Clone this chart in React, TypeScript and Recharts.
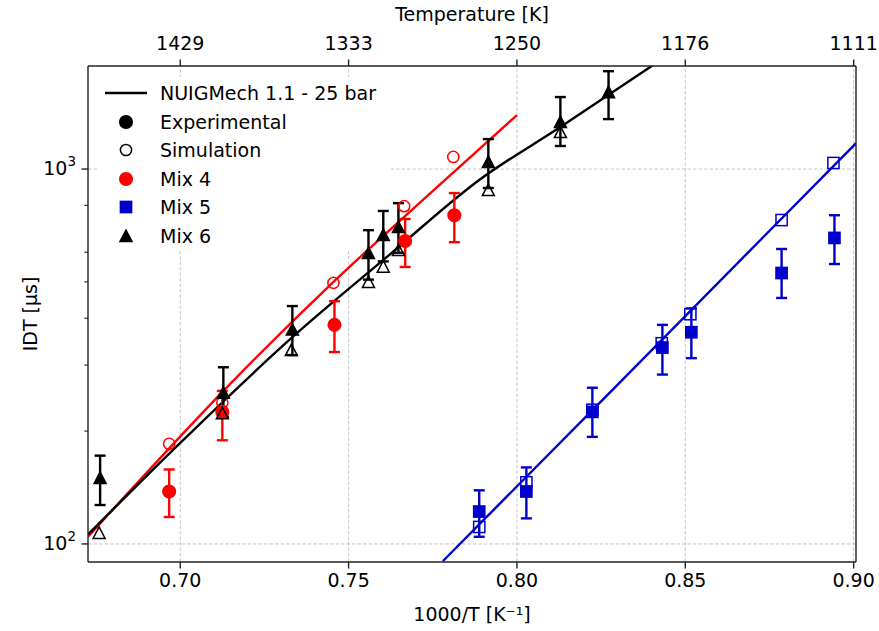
import React from "react";
import {
  ComposedChart,
  XAxis,
  YAxis,
  Scatter,
  Line,
  ErrorBar,
  ReferenceLine,
  Label,
} from "recharts";

// axis ticks
const xTicks = [0.7, 0.75, 0.8, 0.85, 0.9];
const tempLabels = ["1429", "1333", "1250", "1176", "1111"];
const yMajor = [100, 1000];
const yTicks = [100, 200, 300, 400, 500, 600, 700, 800, 900, 1000];

// Mix 4 (red)
const mix4ExpX = [0.6967, 0.7125, 0.7458, 0.7668, 0.7814];
const mix4ExpY = [138, 225, 384, 643, 753];
const mix4ExpLo = [118, 189, 325, 548, 638];
const mix4ExpHi = [158, 256, 444, 736, 863];
const mix4SimX = [0.6967, 0.7125, 0.7455, 0.7665, 0.7811];
const mix4SimY = [185, 238, 497, 796, 1077];
const mix4ModelX = [0.6726, 0.716, 0.7452, 0.772, 0.8];
const mix4ModelY = [104.5, 274, 497, 826, 1393];

// Mix 5 (blue)
const mix5ExpX = [0.7888, 0.8028, 0.8224, 0.8432, 0.8518, 0.8786, 0.8943];
const mix5ExpY = [122, 138, 225, 334, 367, 528, 655];
const mix5ExpLo = [104.5, 117, 193, 283, 313, 453, 558];
const mix5ExpHi = [139, 160, 261, 384, 425, 612, 753];
const mix5SimX = [0.7888, 0.8028, 0.8224, 0.843, 0.8515, 0.8786, 0.894];
const mix5SimY = [111, 146, 228, 343, 410, 731, 1038];
const mix5ModelX = [0.778, 0.8275, 0.9007];
const mix5ModelY = [90, 253, 1172];

// Mix 6 (black)
const mix6ExpX = [0.6762, 0.7128, 0.7333, 0.7559, 0.7603, 0.7648, 0.7915, 0.8129, 0.8272];
const mix6ExpY = [150, 253, 373, 597, 667, 700, 1044, 1335, 1603];
const mix6ExpLo = [127, 218, 319, 507, 567, 598, 890, 1152, 1359];
const mix6ExpHi = [172, 296, 431, 687, 773, 811, 1202, 1556, 1824];
const mix6SimX = [0.6759, 0.7125, 0.733, 0.7559, 0.7603, 0.7648, 0.7915, 0.8129];
const mix6SimY = [107, 223, 329, 500, 549, 608, 879, 1255];
const mix6ModelX = [0.6726, 0.7, 0.7333, 0.7621, 0.7888, 0.8129, 0.8405];
const mix6ModelY = [106, 186, 356, 590, 935, 1294, 1895];

const RED = "#ff0000";
const BLUE = "#0000cd";
const BLACK = "#000000";
const FONT = 19;
const X_DOMAIN = [0.6726, 0.9007];
const Y_DOMAIN = [89.5, 1883];

const pts = (xs: number[], ys: number[], lo?: number[], hi?: number[]) =>
  xs.map((x, i) => ({
    x,
    y: ys[i],
    err: lo && hi ? [ys[i] - lo[i], hi[i] - ys[i]] : undefined,
  }));

// marker shapes
const circle = (color: string, filled: boolean) => (p: any) => (
  <circle
    cx={p.cx}
    cy={p.cy}
    r={filled ? 6.3 : 5.6}
    fill={filled ? color : "none"}
    stroke={color}
    strokeWidth={1.5}
  />
);

const square = (color: string, filled: boolean) => (p: any) => (
  <rect
    x={p.cx - 5.6}
    y={p.cy - 5.6}
    width={11.2}
    height={11.2}
    fill={filled ? color : "none"}
    stroke={color}
    strokeWidth={1.5}
  />
);

const triangle = (color: string, filled: boolean) => (p: any) => (
  <polygon
    points={`${p.cx},${p.cy - 6} ${p.cx - 6},${p.cy + 5.5} ${p.cx + 6},${p.cy + 5.5}`}
    fill={filled ? color : "none"}
    stroke={color}
    strokeWidth={1.5}
  />
);

// y ticks: labelled majors, short minors
const YTick = (props: any) => {
  const { x, y, payload } = props;
  const major = yMajor.includes(payload.value);
  return (
    <g>
      <line
        x1={x}
        x2={x - (major ? 6.5 : 3.7)}
        y1={y}
        y2={y}
        stroke="#222"
        strokeWidth={major ? 1.4 : 1.1}
      />
      {major && (
        <text x={x - 12} y={y + 6} textAnchor="end" fontSize={FONT} fill="#000">
          10
          <tspan dy={-9} fontSize={13.5}>
            {Math.round(Math.log10(payload.value))}
          </tspan>
        </text>
      )}
    </g>
  );
};

const LegendMarker = ({ kind }: { kind: string }) => {
  const c = { cx: 21, cy: 10 };
  let el: React.ReactNode = null;
  if (kind === "line")
    el = <line x1={0} x2={42} y1={10} y2={10} stroke={BLACK} strokeWidth={2.6} />;
  if (kind === "exp") el = circle(BLACK, true)(c);
  if (kind === "sim") el = circle(BLACK, false)(c);
  if (kind === "mix4") el = circle(RED, true)(c);
  if (kind === "mix5") el = square(BLUE, true)(c);
  if (kind === "mix6") el = triangle(BLACK, true)(c);
  return (
    <svg width={42} height={20} style={{ display: "block" }}>
      {el}
    </svg>
  );
};

const legendItems = [
  { kind: "line", label: "NUIGMech 1.1 - 25 bar" },
  { kind: "exp", label: "Experimental" },
  { kind: "sim", label: "Simulation" },
  { kind: "mix4", label: "Mix 4" },
  { kind: "mix5", label: "Mix 5" },
  { kind: "mix6", label: "Mix 6" },
];

const lineProps = {
  type: "monotone" as const,
  dataKey: "y",
  dot: false,
  strokeWidth: 2.4,
  isAnimationActive: false,
  legendType: "none" as const,
};

const layer: React.CSSProperties = { position: "absolute", left: 0, top: 0 };
const axisStroke = { stroke: "#222", strokeWidth: 1.4 };

// axes with the same geometry in both layers; "visible" draws them
const axes = (visible: boolean) => [
  <XAxis
    key="xb"
    dataKey="x"
    type="number"
    domain={X_DOMAIN}
    ticks={xTicks}
    allowDataOverflow
    height={69}
    tickFormatter={(v: number) => v.toFixed(2)}
    tick={visible ? { fontSize: FONT, fill: "#000" } : false}
    tickSize={6.5}
    tickMargin={5}
    axisLine={visible ? axisStroke : false}
    tickLine={visible ? axisStroke : false}
  >
    {visible && (
      <Label
        content={({ viewBox }: any) => (
          <text
            x={viewBox.x + viewBox.width / 2}
            y={621}
            textAnchor="middle"
            fontSize={FONT}
            fill="#000"
          >
            1000/T [K⁻¹]
          </text>
        )}
      />
    )}
  </XAxis>,
  <XAxis
    key="xt"
    xAxisId="top"
    orientation="top"
    dataKey="x"
    type="number"
    domain={X_DOMAIN}
    ticks={xTicks}
    allowDataOverflow
    height={66}
    tickFormatter={(v: number) => tempLabels[xTicks.indexOf(v)] ?? ""}
    tick={visible ? { fontSize: FONT, fill: "#000" } : false}
    tickSize={6.5}
    tickMargin={10}
    axisLine={visible ? axisStroke : false}
    tickLine={visible ? axisStroke : false}
  >
    {visible && (
      <Label
        content={({ viewBox }: any) => (
          <text
            x={viewBox.x + viewBox.width / 2}
            y={21}
            textAnchor="middle"
            fontSize={FONT}
            fill="#000"
          >
            Temperature [K]
          </text>
        )}
      />
    )}
  </XAxis>,
  <YAxis
    key="yl"
    dataKey="y"
    type="number"
    scale="log"
    domain={Y_DOMAIN}
    allowDataOverflow
    ticks={yTicks}
    width={88}
    tick={visible ? <YTick /> : false}
    tickSize={0}
    tickMargin={0}
    tickLine={false}
    axisLine={visible ? axisStroke : false}
  >
    {visible && (
      <Label
        content={({ viewBox }: any) => {
          const cy = viewBox.y + viewBox.height / 2;
          return (
            <text
              x={30}
              y={cy}
              transform={`rotate(-90, 30, ${cy})`}
              textAnchor="middle"
              dominantBaseline="central"
              fontSize={FONT}
              fill="#000"
            >
              IDT [µs]
            </text>
          );
        }}
      />
    )}
  </YAxis>,
  <YAxis
    key="yr"
    yAxisId="right"
    orientation="right"
    type="number"
    scale="log"
    domain={Y_DOMAIN}
    allowDataOverflow
    width={23}
    tick={false}
    tickLine={false}
    axisLine={visible ? axisStroke : false}
  />,
];

export default function App() {
  return (
    <div
      style={{
        ...layer,
        width: 879,
        height: 631,
        background: "#fff",
        fontFamily: "'DejaVu Sans', sans-serif",
      }}
    >
      {/* grid layer */}
      <div style={layer}>
        <ComposedChart width={879} height={631} margin={{ top: 0, right: 0, bottom: 0, left: 0 }}>
          {axes(false)}
          {xTicks.map((t) => (
            <ReferenceLine
              key={"vx" + t}
              x={t}
              stroke="#b8b8b8"
              strokeWidth={0.8}
              strokeDasharray="3.5 2"
            />
          ))}
          {yMajor.map((t) => (
            <ReferenceLine
              key={"hy" + t}
              y={t}
              stroke="#b8b8b8"
              strokeWidth={0.8}
              strokeDasharray="3.5 2"
            />
          ))}
        </ComposedChart>
      </div>

      {/* legend sits above the grid, below the data */}
      <div
        style={{
          position: "absolute",
          left: 97,
          top: 77,
          width: 294,
          height: 174,
          background: "#fff",
          borderRadius: 4,
        }}
      >
        {legendItems.map((item, i) => (
          <div
            key={item.label}
            style={{
              position: "absolute",
              left: 8,
              top: 6 + i * 28.6,
              display: "flex",
              alignItems: "center",
              height: 20,
            }}
          >
            <LegendMarker kind={item.kind} />
            <span
              style={{
                marginLeft: 13,
                fontSize: FONT,
                color: "#000",
                whiteSpace: "nowrap",
                lineHeight: "20px",
              }}
            >
              {item.label}
            </span>
          </div>
        ))}
      </div>

      {/* data + axes layer */}
      <div style={layer}>
        <ComposedChart width={879} height={631} margin={{ top: 0, right: 0, bottom: 0, left: 0 }}>
          {axes(true)}

          <Line data={pts(mix4ModelX, mix4ModelY)} stroke={RED} {...lineProps} />
          <Line data={pts(mix6ModelX, mix6ModelY)} stroke={BLACK} {...lineProps} />
          <Line data={pts(mix5ModelX, mix5ModelY)} stroke={BLUE} {...lineProps} />

          <Scatter data={pts(mix4SimX, mix4SimY)} shape={circle(RED, false)} isAnimationActive={false} />
          <Scatter
            data={pts(mix4ExpX, mix4ExpY, mix4ExpLo, mix4ExpHi)}
            shape={circle(RED, true)}
            isAnimationActive={false}
          >
            <ErrorBar dataKey="err" direction="y" width={5.5} stroke={RED} strokeWidth={2.4} />
          </Scatter>

          <Scatter data={pts(mix5SimX, mix5SimY)} shape={square(BLUE, false)} isAnimationActive={false} />
          <Scatter
            data={pts(mix5ExpX, mix5ExpY, mix5ExpLo, mix5ExpHi)}
            shape={square(BLUE, true)}
            isAnimationActive={false}
          >
            <ErrorBar dataKey="err" direction="y" width={5.5} stroke={BLUE} strokeWidth={2.4} />
          </Scatter>

          <Scatter data={pts(mix6SimX, mix6SimY)} shape={triangle(BLACK, false)} isAnimationActive={false} />
          <Scatter
            data={pts(mix6ExpX, mix6ExpY, mix6ExpLo, mix6ExpHi)}
            shape={triangle(BLACK, true)}
            isAnimationActive={false}
          >
            <ErrorBar dataKey="err" direction="y" width={5.5} stroke={BLACK} strokeWidth={2.4} />
          </Scatter>
        </ComposedChart>
      </div>
    </div>
  );
}
